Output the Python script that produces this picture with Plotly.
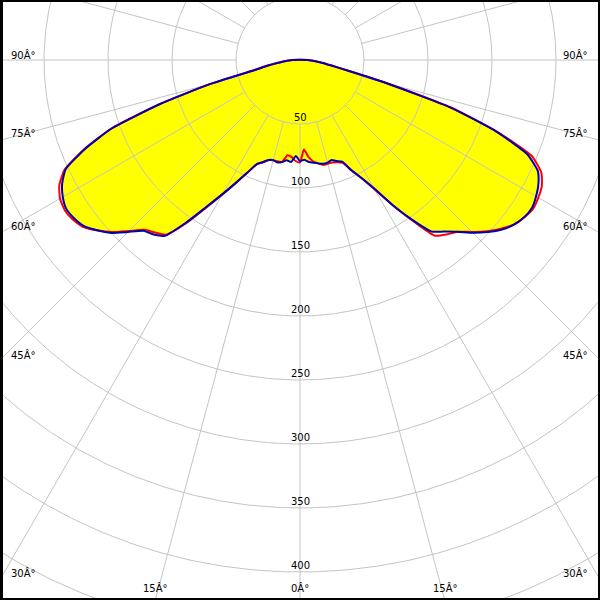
import numpy as np
import plotly.graph_objects as go

# ---- data (luminous intensity, cd/klm) ----
ANGLES = [0, 2.5, 5, 7.5, 10, 12.5, 15, 17.5, 20, 22.5, 25, 27.5, 30, 32.5, 35,
          37.5, 40, 42.5, 45, 47.5, 50, 52.5, 55, 57.5, 60, 62.5, 65, 67.5, 70,
          72.5, 75, 77.5, 80, 82.5, 85, 87.5, 90]

blue_left = [79, 75, 80, 79, 81, 82, 81, 82, 85, 88, 97, 108, 121, 136, 155,
             173, 178, 181, 190, 200, 207, 213, 215.5, 216.5, 214, 209.5, 202, 182, 157,
             115, 73, 36, 26, 18, 13, 9, 6]
blue_right = [79, 78, 80, 81, 82, 83, 83, 82, 84, 86, 95, 104, 116, 134, 152,
              169, 175, 182, 191, 199, 206, 211, 214, 215, 213, 210, 205, 192, 163,
              123, 70, 38, 25, 18, 13, 9, 6]
red_left = [80, 79, 76, 75, 81, 81, 81, 82, 85, 88, 97, 108, 121, 137, 156,
            172, 176, 180, 189, 199, 207, 214, 217, 218, 216.5, 212, 203, 183, 157,
            116, 73, 37, 26, 18, 13, 9, 6]
red_right = [79, 70, 76, 80, 82, 84, 84, 84, 85, 87, 95, 104, 117, 134, 153,
             173, 178, 182, 190, 198, 205, 211, 214, 216, 215, 213, 208, 196, 164,
             124, 71, 38, 25, 18, 13, 9, 6]

RADII = [50, 100, 150, 200, 250, 300, 350, 400, 450]
RADIAL_LABELS = ["50", "100", "150", "200", "250", "300", "350", "400"]
SPOKES = [i * 15 for i in range(24)]

# ---- geometry helpers (nadir = down, left side negative angles) ----
PX_PER_CD = 1.28
W = H = 600
CX, CY = 300, 60


def curve(left, right):
    th = [-a for a in ANGLES[::-1]] + ANGLES[1:]
    r = left[::-1] + right[1:]
    th.append(th[0])
    r.append(r[0])
    th = np.radians(th)
    r = np.array(r, dtype=float)
    return r * np.sin(th), -r * np.cos(th)


GRID = "#c4c4c4"
fig = go.Figure()

bx, by = curve(blue_left, blue_right)
rx, ry = curve(red_left, red_right)

LINE_SHAPE = dict(shape="spline", smoothing=0.5)

# yellow fill
fig.add_trace(go.Scatter(x=bx, y=by, mode="lines", fill="toself",
                         fillcolor="#ffff00",
                         line=dict(width=0, color="#ffff00", **LINE_SHAPE),
                         hoverinfo="skip", showlegend=False))

# grid circles
t = np.linspace(0, 2 * np.pi, 721)
for rr in RADII:
    fig.add_trace(go.Scatter(x=rr * np.cos(t), y=rr * np.sin(t), mode="lines",
                             line=dict(color=GRID, width=1), hoverinfo="skip",
                             showlegend=False))
# spokes
for a in SPOKES:
    ar = np.radians(a)
    fig.add_trace(go.Scatter(x=[50 * np.sin(ar), 700 * np.sin(ar)],
                             y=[-50 * np.cos(ar), -700 * np.cos(ar)], mode="lines",
                             line=dict(color=GRID, width=1), hoverinfo="skip",
                             showlegend=False))

fig.add_trace(go.Scatter(x=rx, y=ry, mode="lines",
                         line=dict(color="#ff0000", width=2, **LINE_SHAPE),
                         hoverinfo="skip", showlegend=False))
fig.add_trace(go.Scatter(x=bx, y=by, mode="lines",
                         line=dict(color="#0000b4", width=2, **LINE_SHAPE),
                         hoverinfo="skip", showlegend=False))

FONT = dict(family="DejaVu Sans, Verdana, sans-serif", size=10, color="#000000")
ann = []
for rr, lab in zip(RADII, RADIAL_LABELS):
    ann.append(dict(x=0, y=-rr, xref="x", yref="y", text=lab, showarrow=False,
                    xanchor="center", yanchor="bottom", yshift=-1, font=FONT))

# angle labels at the frame edges (pixel positions)
side = [("90Â°", 55), ("75Â°", 133), ("60Â°", 226), ("45Â°", 355), ("30Â°", 573)]
for txt, ypx in side:
    ann.append(dict(x=9 / W, y=1 - ypx / H, xref="paper", yref="paper", text=txt,
                    showarrow=False, xanchor="left", yanchor="middle", font=FONT))
    ann.append(dict(x=590 / W, y=1 - ypx / H, xref="paper", yref="paper", text=txt,
                    showarrow=False, xanchor="right", yanchor="middle", font=FONT))
for txt, xpx in [("15Â°", 155), ("0Â°", 300), ("15Â°", 445)]:
    ann.append(dict(x=xpx / W, y=1 - 588 / H, xref="paper", yref="paper", text=txt,
                    showarrow=False, xanchor="center", yanchor="middle", font=FONT))

# black frame
shapes = [
    dict(type="rect", xref="paper", yref="paper", x0=0, x1=3 / W, y0=0, y1=1,
         fillcolor="black", line=dict(width=0), layer="above"),
    dict(type="rect", xref="paper", yref="paper", x0=1 - 2 / W, x1=1, y0=0, y1=1,
         fillcolor="black", line=dict(width=0), layer="above"),
    dict(type="rect", xref="paper", yref="paper", x0=0, x1=1, y0=1 - 2 / H, y1=1,
         fillcolor="black", line=dict(width=0), layer="above"),
    dict(type="rect", xref="paper", yref="paper", x0=0, x1=1, y0=0, y1=2 / H,
         fillcolor="black", line=dict(width=0), layer="above"),
]

xr = CX / PX_PER_CD
fig.update_layout(
    width=W, height=H, margin=dict(l=0, r=0, t=0, b=0),
    paper_bgcolor="white", plot_bgcolor="white",
    xaxis=dict(range=[-xr, xr], visible=False, fixedrange=True),
    yaxis=dict(range=[-(H - CY) / PX_PER_CD, CY / PX_PER_CD], visible=False,
               fixedrange=True),
    annotations=ann, shapes=shapes, showlegend=False,
)
fig.write_html("out.html", config={"displayModeBar": False},
               post_script="document.body.style.margin='0';document.body.style.overflow='hidden';")
